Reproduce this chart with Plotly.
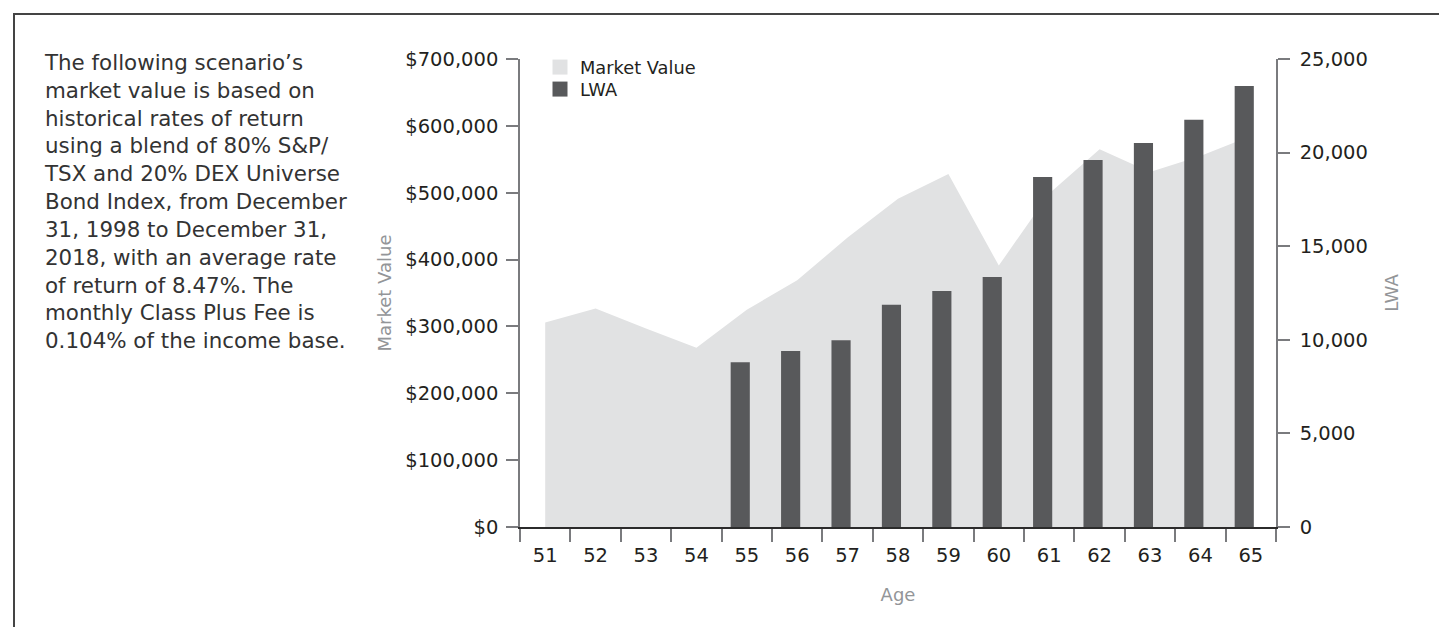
import plotly.graph_objects as go

# ---------------- data ----------------
ages = [51, 52, 53, 54, 55, 56, 57, 58, 59, 60, 61, 62, 63, 64, 65]
market_value = [306000, 327000, 297000, 268000, 325000, 369000, 433000, 491000,
                528000, 391000, 499000, 565000, 531000, 555000, 585000]
lwa = [None, None, None, None, 8800, 9400, 9980, 11870, 12610, 13360,
       18690, 19600, 20510, 21750, 23560]
mv_ticks = [0, 100000, 200000, 300000, 400000, 500000, 600000, 700000]
lwa_ticks = [0, 5000, 10000, 15000, 20000, 25000]
note_lines = [
    "The following scenario’s",
    "market value is based on",
    "historical rates of return",
    "using a blend of 80% S&amp;P/",
    "TSX and 20% DEX Universe",
    "Bond Index, from December",
    "31, 1998 to December 31,",
    "2018, with an average rate",
    "of return of 8.47%. The",
    "monthly Class Plus Fee is",
    "0.104% of the income base.",
]

# ---------------- layout geometry ----------------
W, H = 1447, 627
L, R, T, B = 512, 179, 51, 108
PW, PH = W - L - R, H - T - B


def px2x(px):
    return (px - L) / PW


def py2y(py):
    return (H - B - py) / PH


FONT = "DejaVu Sans"
AREA_C = "#e1e2e3"
BAR_C = "#58595b"
AXIS_C = "#7a7b7e"
TXT_C = "#231f20"
TITLE_C = "#939598"

fig = go.Figure()

fig.add_trace(go.Scatter(
    x=ages, y=market_value, mode="none", fill="tozeroy",
    fillcolor=AREA_C, name="Market Value", showlegend=False,
    xaxis="x", yaxis="y", hoverinfo="x+y"))

fig.add_trace(go.Bar(
    x=ages, y=lwa, marker=dict(color=BAR_C, line=dict(width=0)),
    offset=-0.32, width=0.38, name="LWA", showlegend=False,
    xaxis="x", yaxis="y2"))

# legend proxies (square swatches), one per legend box for tight spacing
fig.add_trace(go.Scatter(
    x=[None], y=[None], mode="markers", name="Market Value",
    marker=dict(symbol="square", size=15, color=AREA_C), yaxis="y",
    legend="legend"))
fig.add_trace(go.Scatter(
    x=[None], y=[None], mode="markers", name="LWA",
    marker=dict(symbol="square", size=15, color=BAR_C), yaxis="y",
    legend="legend2"))

note = dict(
    text="<br>".join(note_lines), xref="paper", yref="paper",
    x=px2x(34), xanchor="left", align="left",
    y=py2y(40), yanchor="top",
    showarrow=False, font=dict(family=FONT, size=21.4, color="#333333"))

leg_common = dict(xanchor="left", yanchor="top",
                  bgcolor="rgba(0,0,0,0)", borderwidth=0,
                  font=dict(family=FONT, size=17.8, color=TXT_C),
                  itemwidth=30, tracegroupgap=0)

fig.update_layout(
    width=W, height=H,
    margin=dict(l=L, r=R, t=T, b=B, pad=0),
    paper_bgcolor="white", plot_bgcolor="white",
    font=dict(family=FONT, color=TXT_C),
    barmode="overlay",
    showlegend=True,
    legend=dict(x=px2x(532), y=py2y(41), **leg_common),
    legend2=dict(x=px2x(532), y=py2y(63), **leg_common),
    xaxis=dict(
        range=[50.5, 65.5], tickmode="array", tickvals=ages,
        ticktext=[str(a) for a in ages], ticks="",
        tickfont=dict(family=FONT, size=19.5, color=TXT_C),
        ticklabelstandoff=10,
        minor=dict(ticks="outside", tick0=50.5, dtick=1, ticklen=13,
                   tickcolor=AXIS_C, tickwidth=1.5, showgrid=False),
        showline=True, linecolor="#2b2b2b", linewidth=1.5,
        showgrid=False, zeroline=False,
        title=dict(text="Age", font=dict(family=FONT, size=18, color=TITLE_C),
                   standoff=22)),
    yaxis=dict(
        range=[0, 700000], tickmode="array", tickvals=mv_ticks,
        tickformat="$,", ticks="outside", ticklen=12, tickwidth=1.5,
        tickcolor=AXIS_C, ticklabelstandoff=4,
        tickfont=dict(family=FONT, size=19.5, color=TXT_C),
        showline=True, linecolor=AXIS_C, linewidth=1.5,
        showgrid=False, zeroline=False,
        title=dict(text="Market Value",
                   font=dict(family=FONT, size=18, color=TITLE_C), standoff=9)),
    yaxis2=dict(
        overlaying="y", side="right", anchor="x",
        range=[0, 25000], tickmode="array", tickvals=lwa_ticks,
        tickformat=",", ticks="outside", ticklen=12, tickwidth=1.5,
        tickcolor=AXIS_C, ticklabelstandoff=6,
        tickfont=dict(family=FONT, size=19.5, color=TXT_C),
        showline=True, linecolor=AXIS_C, linewidth=1.5,
        showgrid=False, zeroline=False,
        title=dict(text="LWA", font=dict(family=FONT, size=18, color=TITLE_C),
                   standoff=19)),
    shapes=[dict(type="rect", xref="paper", yref="paper",
                 x0=px2x(6), x1=px2x(1445), y0=py2y(700), y1=py2y(6),
                 line=dict(color="#444444", width=2), fillcolor="rgba(0,0,0,0)",
                 layer="below")],
    annotations=[note],
)

fig.write_html("out.html")
